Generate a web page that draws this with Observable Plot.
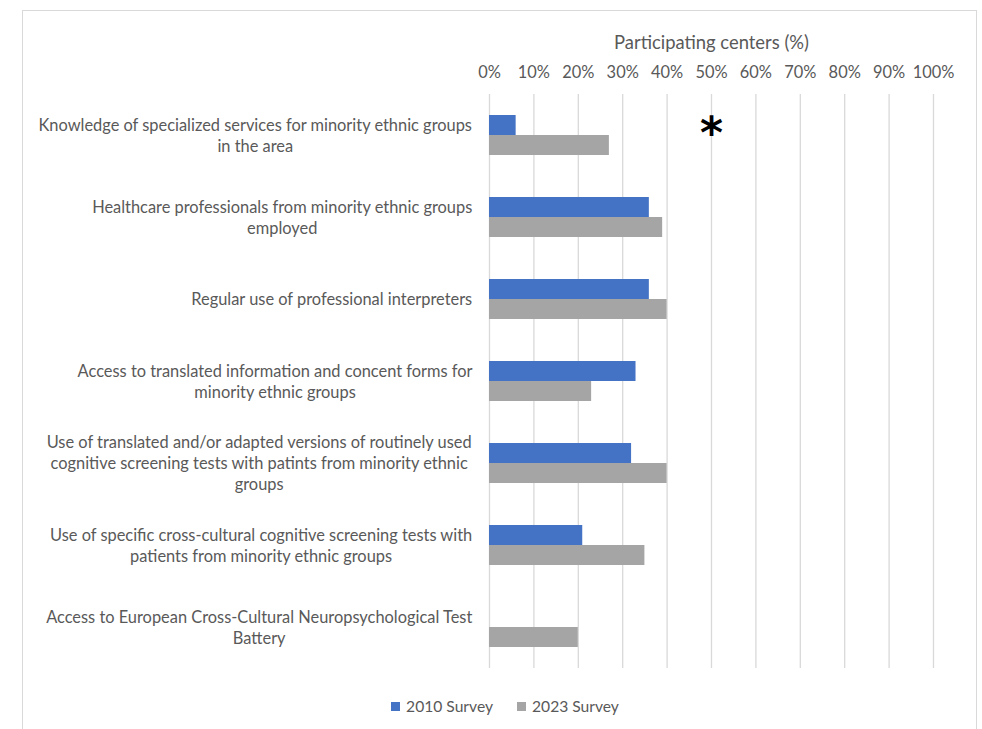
<!DOCTYPE html>
<html>
<head>
<meta charset="utf-8">
<script src="https://cdn.jsdelivr.net/npm/d3@7"></script>
<script src="https://cdn.jsdelivr.net/npm/@observablehq/plot@0.6"></script>
<style>
  html, body { margin: 0; padding: 0; background: #fff; }
  #chart { position: absolute; left: 0; top: 0; }
  #frame { position: absolute; left: 22px; top: 10px; width: 955px; height: 760px;
           border: 1.5px solid #d9d9d9; box-sizing: border-box; pointer-events: none; }
  #legend { position: absolute; left: 14px; top: 696px; width: 982px; height: 20px;
            display: flex; justify-content: center; align-items: center; color: #595959; }
  #legend .item { display: inline-flex; align-items: center; margin: 0 12px; line-height: 20px; }
  #legend .sw { display: inline-block; width: 9px; height: 9px; margin-right: 6px; }
</style>
</head>
<body>
<div id="chart"></div>
<div id="legend"></div>
<div id="frame"></div>
<script>
// ---- data ----
const categories = [
  "Knowledge of specialized services for minority ethnic groups\nin the area",
  "Healthcare professionals from minority ethnic groups\nemployed",
  "Regular use of professional interpreters",
  "Access to translated information and concent forms for\nminority ethnic groups",
  "Use of translated and/or adapted versions of routinely used\ncognitive screening tests with patints from minority ethnic\ngroups",
  "Use of specific cross-cultural cognitive screening tests with\npatients from minority ethnic groups",
  "Access to European Cross-Cultural Neuropsychological Test\nBattery"
];
const seriesNames = ["2010 Survey", "2023 Survey"];
const survey2010 = [6, 36, 36, 33, 32, 21, 0];
const survey2023 = [27, 39, 40, 23, 40, 35, 20];
const xTicks = [0, 10, 20, 30, 40, 50, 60, 70, 80, 90, 100];
const axisTitle = "Participating centers (%)";
const annotations = [{category: categories[0], x: 50, text: "*"}];

// ---- style ----
const FONT = "Lato";
const TEXT_COLOR = "#595959";
const COLORS = ["#4472C4", "#A5A5A5"];
const W = 982, MT = 94, MB = 12, ML = 489, MR = 49;
const BAND = 82, BAR_H = 20;
const H = MT + BAND * categories.length + MB;

const canvas = document.createElement("canvas");
const ctx = canvas.getContext("2d");
function measure(text, size, family = FONT, weight = "normal") {
  ctx.font = `${weight} ${size}px "${family}"`;
  return ctx.measureText(text).width;
}
const fs = 20 * 435 / measure(categories[0].split("\n")[0], 20);
const titleFs = 20 * 195 / measure(axisTitle, 20);
const legendFs = 20 * 87 / measure(seriesNames[0], 20);

const rows = categories.flatMap((c, i) => [
  {category: c, series: seriesNames[0], value: survey2010[i]},
  {category: c, series: seriesNames[1], value: survey2023[i]}
]);

const labelMarks = categories.map(c => {
  const w = d3.max(c.split("\n"), l => measure(l, fs));
  return Plot.text([c], {
    y: d => d, text: d => d, frameAnchor: "left", textAnchor: "middle",
    dx: -(17 + w / 2), dy: -1, lineHeight: 21 / fs, fill: TEXT_COLOR, fontSize: fs
  });
});

const half = BAND / 2;
const chart = Plot.plot({
  width: W, height: H,
  marginTop: MT, marginBottom: MB, marginLeft: ML, marginRight: MR,
  x: {domain: [0, 100]},
  y: {domain: categories, padding: 0, axis: null},
  style: {fontFamily: FONT, fontSize: fs + "px", background: "none", color: TEXT_COLOR},
  marks: [
    Plot.gridX({ticks: xTicks, stroke: "#d9d9d9", strokeOpacity: 1, strokeWidth: 1.3}),
    Plot.barX(rows.filter(d => d.series === seriesNames[0]), {
      x: "value", y: "category", fill: COLORS[0], insetTop: half - BAR_H, insetBottom: half
    }),
    Plot.barX(rows.filter(d => d.series === seriesNames[1]), {
      x: "value", y: "category", fill: COLORS[1], insetTop: half, insetBottom: half - BAR_H
    }),
    Plot.axisX({
      anchor: "top", ticks: xTicks, tickSize: 0, tickPadding: 17,
      tickFormat: d => `${d}%`, label: null, color: TEXT_COLOR, fontSize: fs
    }),
    Plot.text([axisTitle], {
      text: d => d, frameAnchor: "top", dy: -51, lineAnchor: "middle",
      fill: TEXT_COLOR, fontSize: titleFs
    }),
    ...labelMarks,
    Plot.text(annotations, {
      x: "x", y: "category", text: "text", fontSize: 44, fontWeight: "bold",
      fontFamily: "DejaVu Sans", fill: "#000", dy: -2
    })
  ]
});
document.getElementById("chart").append(chart);

const legend = document.getElementById("legend");
legend.style.fontFamily = FONT;
legend.style.fontSize = legendFs + "px";
seriesNames.forEach((name, i) => {
  const item = document.createElement("span");
  item.className = "item";
  const sw = document.createElement("span");
  sw.className = "sw";
  sw.style.background = COLORS[i];
  item.append(sw, document.createTextNode(name));
  legend.append(item);
});
</script>
</body>
</html>
